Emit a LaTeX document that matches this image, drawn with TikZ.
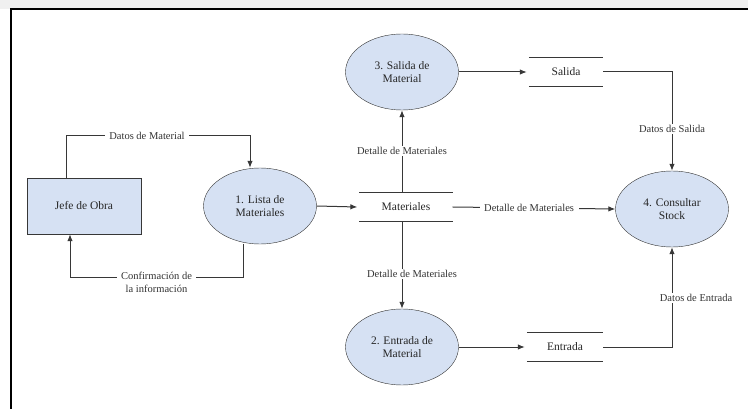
\documentclass[tikz,border=0pt]{standalone}
\usepackage{fontspec}
\setmainfont{Liberation Serif}
\usetikzlibrary{shapes.geometric,arrows.meta}
\definecolor{procfill}{RGB}{214,225,243}
\definecolor{edge}{RGB}{55,55,55}
\begin{document}
\begin{tikzpicture}[x=1pt,y=-1pt,
  >={Latex[length=7pt,width=5.5pt]},
  proc/.style={ellipse, draw=edge, fill=procfill, text=black!85, minimum width=113pt,
    minimum height=76pt, inner sep=0pt, align=center, font=\fontsize{11.5}{13.5}\selectfont},
  ext/.style={rectangle, draw=edge, fill=procfill, text=black!85, minimum width=114pt,
    minimum height=56pt, font=\fontsize{11.5}{13.5}\selectfont},
  store/.style={minimum height=29pt, inner sep=0pt, text=black!85, font=\fontsize{11.5}{13.5}\selectfont},
  storeline/.style={draw=edge, line width=1pt},
  flow/.style={->, draw=edge, line width=1pt},
  lbl/.style={fill=white, text=black!80, inner xsep=4.5pt, inner ysep=1.5pt, align=center,
    font=\fontsize{10.5}{12.5}\selectfont}]
\useasboundingbox (0,0) rectangle (748,409);
\fill[black!6] (0,0) rectangle (748,9);
\draw[line width=2pt] (11,409) -- (11,9) -- (748,9);
% entidad externa y procesos
\node[ext] (jefe) at (84,206) {Jefe de Obra};
\node[proc] (p1) at (260,206) {1. Lista de\\Materiales};
\node[proc] (p3) at (402,72) {3. Salida de\\Material};
\node[proc] (p2) at (402,347) {2. Entrada de\\Material};
\node[proc] (p4) at (672,209) {4. Consultar\\Stock};
% almacenes
\node[store, minimum width=93pt] (mat) at (406,207) {Materiales};
\node[store, minimum width=74pt] (sal) at (566,72) {Salida};
\node[store, minimum width=76pt] (ent) at (565,347) {Entrada};
\foreach \s in {mat,sal,ent}
  \draw[storeline] (\s.north west) -- (\s.north east) (\s.south west) -- (\s.south east);
% flujos
\draw[flow] ([xshift=-18pt]jefe.north) -- ++(0,-42)
  -| node[lbl, pos=0.22] {Datos de Material} ([xshift=-10pt]p1.north);
\draw[flow] ([xshift=-17pt]p1.south) -- ++(0,33)
  -| node[lbl, pos=0.25, yshift=-5pt] {Confirmaci\'on de\\la informaci\'on} ([xshift=-14pt]jefe.south);
\draw[flow] (p1.east) -- ([xshift=-2pt]mat.west);
\draw[flow] (mat.north -| p3.south) -- node[lbl] {Detalle de Materiales} (p3.south);
\draw[flow] (mat.south -| p2.north) -- node[lbl, pos=0.6, xshift=10pt] {Detalle de Materiales} (p2.north);
\draw[flow] (mat.east) -- node[lbl, pos=0.47] {Detalle de Materiales} (p4.west);
\draw[flow] (p3.east) -- ([xshift=-2pt]sal.west);
\draw[flow] (p2.east) -- ([xshift=-2pt]ent.west);
\draw[flow] (sal.east) -| node[lbl, pos=0.79] {Datos de Salida} (p4.north);
\draw[flow] (ent.east) -| node[lbl, pos=0.745, xshift=24pt] {Datos de Entrada} (p4.south);
\end{tikzpicture}
\end{document}
